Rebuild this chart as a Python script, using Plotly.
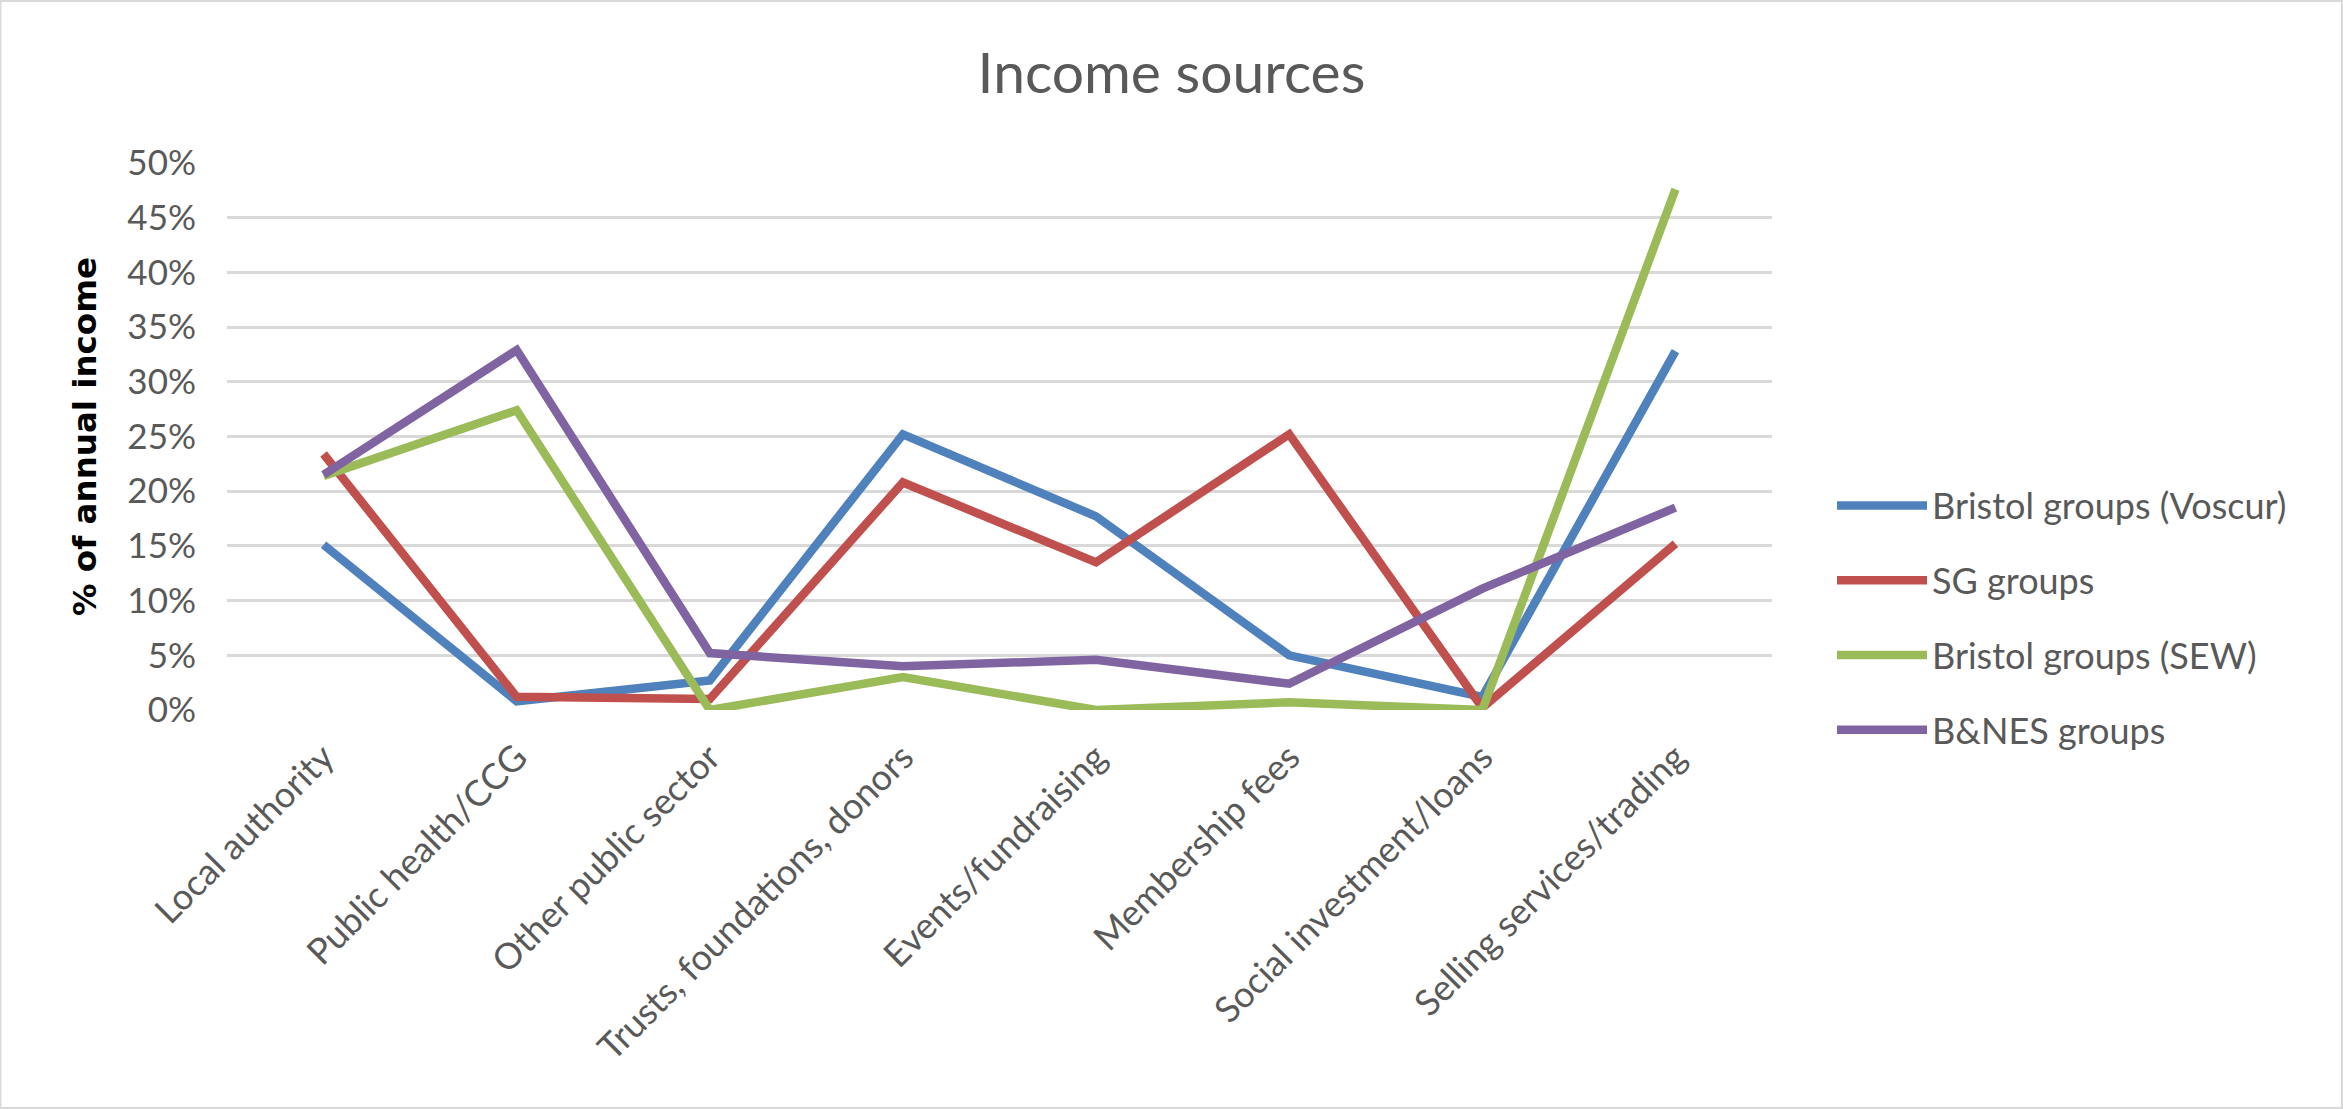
import plotly.graph_objects as go

categories = ["Local authority", "Public health/CCG", "Other public sector",
              "Trusts, foundations, donors", "Events/fundraising", "Membership fees",
              "Social investment/loans", "Selling services/trading"]

series_names = ["Bristol groups (Voscur)", "SG groups", "Bristol groups (SEW)", "B&NES groups"]
voscur = [15.1, 0.8, 2.7, 25.2, 17.7, 5.0, 1.2, 32.8]
sg = [23.4, 1.2, 1.0, 20.8, 13.5, 25.2, 0.2, 15.2]
sew = [21.4, 27.4, 0.0, 3.0, 0.0, 0.7, 0.0, 47.6]
bnes = [21.5, 32.9, 5.2, 4.0, 4.6, 2.4, 11.1, 18.5]
colors = ["#4F81BD", "#C0504D", "#9BBB59", "#8064A2"]

y_ticks = [0, 5, 10, 15, 20, 25, 30, 35, 40, 45, 50]
y_tick_labels = [f"{v}%" for v in y_ticks]

W, H = 2343, 1109
L, R, T, B = 227, 571, 163, 399
TXT = "#595959"
FONT = "Lato"

fig = go.Figure()
for name, vals, col in zip(series_names, [voscur, sg, sew, bnes], colors):
    fig.add_trace(go.Scatter(x=categories, y=vals, name=name, mode="lines",
                             line=dict(color=col, width=8.5), legendgroup=name))

fig.update_layout(
    width=W, height=H,
    margin=dict(l=L, r=R, t=T, b=B, autoexpand=False),
    paper_bgcolor="white", plot_bgcolor="white",
    font=dict(family=FONT, color=TXT, size=35),
    title=dict(text="Income sources", x=0.5, xref="container", xanchor="center",
               y=1 - 73 / H, yref="container", yanchor="middle",
               font=dict(family=FONT, size=57, color=TXT)),
    xaxis=dict(type="category", showgrid=False, zeroline=False, showline=False,
               tickangle=-45, tickfont=dict(family=FONT, size=36, color=TXT),
               ticks="", ticklabelstandoff=18, range=[-0.5, 7.5]),
    yaxis=dict(range=[0, 50], tickvals=y_ticks, ticktext=y_tick_labels,
               showgrid=True, gridcolor="#D9D9D9", gridwidth=3, zeroline=False,
               showline=False, ticks="", ticklabelstandoff=30,
               tickfont=dict(family=FONT, size=35, color=TXT),
               title=dict(text="<b>% of annual income</b>", standoff=20,
                          font=dict(family="DejaVu Sans", size=32.5, color="black"))),
    showlegend=True,
    legend=dict(x=(1832 - L) / (W - L - R), xanchor="left",
                y=(710 - 618) / (710 - 163), yanchor="middle",
                font=dict(family=FONT, size=36, color=TXT),
                traceorder="grouped", tracegroupgap=25, itemwidth=90,
                bgcolor="rgba(0,0,0,0)"),
    shapes=[dict(type="rect", xref="paper", yref="paper",
                 x0=-L / (W - L - R) + 0.0003, x1=1 + (R - 1) / (W - L - R),
                 y0=-(B - 1) / (H - T - B), y1=1 + (T - 1) / (H - T - B),
                 line=dict(color="#D9D9D9", width=2), layer="below")],
)

fig.write_html("out.html")
